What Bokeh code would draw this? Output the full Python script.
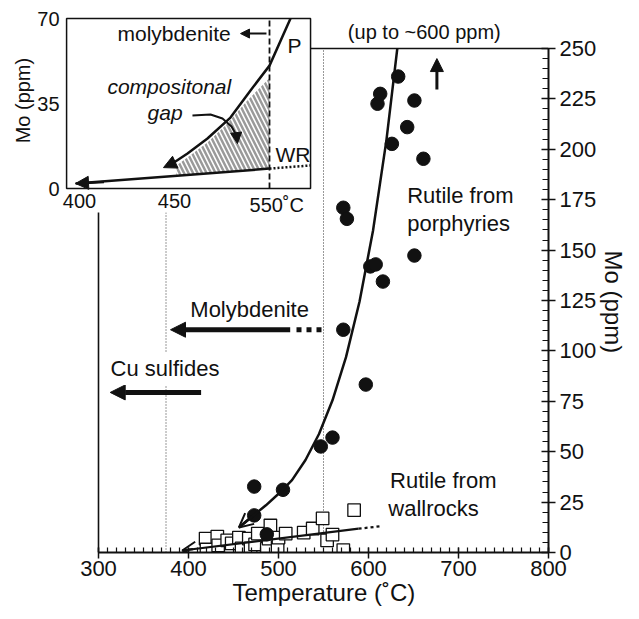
import numpy as np
from bokeh.plotting import figure
from bokeh.models import (Range1d, SingleIntervalTicker, Arrow, OpenHead, NormalHead, Label, Title)
from bokeh.core.properties import value
from bokeh.embed import file_html
from bokeh.resources import INLINE

FONT = "Liberation Sans"
INK = "#111111"

# ---------------- main panel data ----------------
porph_T = [473, 505, 473, 487, 547, 560, 572, 597, 602, 608, 616, 651, 572, 576,
           626, 661, 643, 610, 613, 651, 633]
porph_Mo = [32.7, 31.1, 18.4, 9.0, 52.6, 57.0, 110.5, 83.3, 141.9, 142.9, 134.4, 147.3,
            171.0, 165.5, 202.7, 195.3, 211.0, 222.6, 227.5, 224.2, 236.1]

wall_T = [419, 420, 432, 433, 443, 448, 456, 459, 467, 469, 474, 477, 487, 489, 491,
          499, 500, 508, 528, 538, 549, 554, 560, 572, 584]
wall_Mo = [6.9, 1.5, 7.9, 3.5, 6.0, 4.5, 7.4, 2.0, 6.9, 2.0, 4.0, 9.4, 1.8, 6.9, 13.4,
           2.5, 7.4, 9.4, 9.9, 11.9, 16.9, 6.0, 8.9, 1.2, 21.0]

trendP_T = [456, 471, 486, 501, 515, 530, 545, 560, 575, 590, 605, 620, 632]
trendP_Mo = [12.4, 18.0, 23.4, 29.5, 35.9, 45.9, 58.8, 75.5, 96.9, 124.4, 159.6, 204.8, 250.0]
trendWR_T = [393, 589]
trendWR_Mo = [1.0, 11.8]
trendWR_ext_T = [589, 613]
trendWR_ext_Mo = [11.8, 13.0]

moly_T = 550      # molybdenite line
cu_T = 375        # Cu sulfides line
moly_arrow_T = [513, 380]
moly_arrow_dots_T = [520, 550]
moly_arrow_Mo = 110.5
cu_arrow_T = [414, 313]
cu_arrow_Mo = 79.4
up_arrow_T = 676
up_arrow_Mo = [229.7, 245.0]

x_tick_step = 100
y_tick_step = 25
x_lim = (300, 800)
y_lim = (0, 250)

# ---------------- inset data (schematic) ----------------
inset_x_ticks = [400, 450, 550]
inset_x_labels = ["400", "450", "550˚C"]
inset_y_ticks = [0, 35, 70]
inset_box_T = (393.2, 593.2)
inset_box_Mo = (0, 70)
insetP_T = [448.9, 463.7, 484.7, 508.9, 530, 550, 572.1]
insetP_Mo = [10.3, 14.4, 20.6, 29.2, 40.4, 50.6, 70]
insetP_tip = (444.2, 8.6)
insetWR_T = [397.9, 550]
insetWR_Mo = [2.06, 8.2]
insetWR_ext_T = [550, 593.2]
insetWR_ext_Mo = [8.2, 9.5]
gap_T = [452, 465, 485, 505, 525, 550, 550, 452]
gap_Mo = [9.5, 13.2, 19.0, 26.5, 35.5, 45.5, 8.2, 5.3]
gap_arrow_T = [468.9, 487.9, 500.5, 510.0, 515.3]
gap_arrow_Mo = [30.1, 30.5, 28.8, 25.5, 21.8]
gap_arrow_tip = (516.3, 18.5)
moly_inset_T = [546.8, 519.5]
moly_inset_Mo = 63.8


def iu(T):
    """Inset temperature axis (schematic, 400/450/550 equally spaced)."""
    def one(t):
        return (t - 400) / 50.0 if t < 450 else 1 + (t - 450) / 100.0
    if np.ndim(T) == 0:
        return float(one(float(T)))
    return [float(one(float(t))) for t in T]


p = figure(width=631, height=611, x_range=Range1d(200, 800), y_range=Range1d(0, 269.84),
           y_axis_location="right", output_backend="svg", toolbar_location=None,
           title=None, min_border_left=8, min_border_top=8, min_border_right=83,
           min_border_bottom=59, background_fill_color="white",
           border_fill_color="white", outline_line_color=None)
p.grid.visible = False
p.extra_x_ranges = {"ix": Range1d(-0.7474, 4.9368)}
p.extra_y_ranges = {"iy": Range1d(-149.88, 74.12)}

xa = p.xaxis[0]
xa.ticker = SingleIntervalTicker(interval=x_tick_step, num_minor_ticks=10)
xa.bounds = x_lim
ya = p.yaxis[0]
ya.ticker = SingleIntervalTicker(interval=y_tick_step, num_minor_ticks=5)
ya.bounds = y_lim
for ax in (xa, ya):
    ax.axis_line_color = INK
    ax.axis_line_width = 2
    ax.major_tick_line_color = INK
    ax.major_tick_line_width = 1.5
    ax.minor_tick_line_color = INK
    ax.minor_tick_line_width = 1.2
    ax.major_label_text_font = FONT
    ax.major_label_text_font_size = "22px"
    ax.major_label_text_color = INK
    ax.minor_tick_out = 0
xa.major_tick_in = 5
xa.major_tick_out = 6
xa.minor_tick_in = 5
xa.major_label_standoff = 2
ya.major_tick_in = 7
ya.major_tick_out = 7
ya.minor_tick_in = 6
ya.major_label_standoff = 4

# axis titles, placed as side titles so they can be centred on the bounded axes
p.add_layout(Title(text="Temperature (˚C)", text_font=FONT, text_font_size="24px",
                   text_font_style="normal", text_color=INK, align="left",
                   offset=224, standoff=0, vertical_align="top"), "below")
p.add_layout(Title(text="Mo (ppm)", text_font=FONT, text_font_size="24px",
                   text_font_style="normal", text_color=INK, align="left",
                   offset=242, standoff=0, vertical_align="bottom"), "right")

# reference lines
p.segment(x0=[cu_T, moly_T], y0=[0, 0], x1=[cu_T, moly_T], y1=[y_lim[1], y_lim[1]],
          line_color="#333333", line_width=1, line_dash="1 2")
p.segment(x0=[x_lim[0], x_lim[0]], y0=[y_lim[0], y_lim[1]], x1=[x_lim[0], x_lim[1]],
          y1=[y_lim[1], y_lim[1]], line_color=INK, line_width=1.6)

# molybdenite / Cu sulfide arrows
p.line(x=moly_arrow_dots_T, y=[moly_arrow_Mo] * 2, line_color=INK, line_width=5,
       line_dash="5 5")
p.add_layout(Arrow(end=NormalHead(size=15, fill_color=INK, line_color=INK),
                   x_start=moly_arrow_T[0], y_start=moly_arrow_Mo,
                   x_end=moly_arrow_T[1], y_end=moly_arrow_Mo,
                   line_color=INK, line_width=5))
p.add_layout(Arrow(end=NormalHead(size=15, fill_color=INK, line_color=INK),
                   x_start=cu_arrow_T[0], y_start=cu_arrow_Mo,
                   x_end=cu_arrow_T[1], y_end=cu_arrow_Mo,
                   line_color=INK, line_width=5))
p.add_layout(Arrow(end=NormalHead(size=13, fill_color=INK, line_color=INK),
                   x_start=up_arrow_T, y_start=up_arrow_Mo[0],
                   x_end=up_arrow_T, y_end=up_arrow_Mo[1],
                   line_color=INK, line_width=3))

# data
p.scatter(x=wall_T, y=wall_Mo, marker="square", size=12.5, fill_color="white",
          line_color=INK, line_width=1.3)
p.line(x=trendWR_T, y=trendWR_Mo, line_color=INK, line_width=2.2)
p.line(x=trendWR_ext_T, y=trendWR_ext_Mo, line_color=INK, line_width=2.2, line_dash="3 3")
p.add_layout(Arrow(end=OpenHead(size=14, line_color=INK, line_width=2),
                   x_start=trendWR_T[0] + 12, y_start=trendWR_Mo[0] + 0.7,
                   x_end=trendWR_T[0], y_end=trendWR_Mo[0], line_color=INK, line_width=2.2))
p.scatter(x=porph_T, y=porph_Mo, marker="circle", size=13.5, fill_color=INK,
          line_color=INK)
p.line(x=trendP_T, y=trendP_Mo, line_color=INK, line_width=2.5)
p.add_layout(Arrow(end=OpenHead(size=14, line_color=INK, line_width=2),
                   x_start=trendP_T[1], y_start=trendP_Mo[1],
                   x_end=trendP_T[0], y_end=trendP_Mo[0], line_color=INK, line_width=2.5))

# main texts
txt = dict(text_font=value(FONT), text_font_size="22px", text_color=INK,
           text_baseline="middle", text_align="left")
p.text(x=[402, 643, 643, 624, 622], y=[120.5, 177.1, 163.2, 35.7, 21.8],
       text=["Molybdenite", "Rutile from", "porphyries", "Rutile from", "wallrocks"], **txt)
p.text(x=[662], y=[258.4], text=["(up to ~600 ppm)"], text_font=value(FONT),
       text_font_size="20px", text_color=INK, text_baseline="middle", text_align="center")
p.add_layout(Label(x=309, y=91.3, text="Cu sulfides", text_font=FONT,
                   text_font_size="22px", text_color=INK, text_baseline="middle",
                   background_fill_color="white", padding=4))

# ---------------- inset ----------------
p.quad(left=200, right=535.6, bottom=168.65, top=269.84, fill_color="white",
       line_color=None)
ik = dict(x_range_name="ix", y_range_name="iy")
p.quad(left=iu(inset_box_T[0]), right=iu(inset_box_T[1]), bottom=inset_box_Mo[0],
       top=inset_box_Mo[1], fill_color="white", line_color=INK, line_width=1.5, **ik)
p.patch(x=iu(gap_T), y=gap_Mo, fill_color="white", fill_alpha=0, line_color=None,
        hatch_pattern="\\", hatch_color="#9a9a9a", hatch_weight=2.5, hatch_scale=9, **ik)
p.line(x=iu([550, 550]), y=list(inset_box_Mo), line_color=INK, line_width=1.8,
       line_dash="6 3", **ik)
p.line(x=iu(insetP_T), y=insetP_Mo, line_color=INK, line_width=2.5, **ik)
p.line(x=iu(insetWR_T), y=insetWR_Mo, line_color=INK, line_width=2.5, **ik)
p.line(x=iu(insetWR_ext_T), y=insetWR_ext_Mo, line_color=INK, line_width=2.5,
       line_dash="2 2", **ik)
p.line(x=iu(gap_arrow_T), y=gap_arrow_Mo, line_color=INK, line_width=2, **ik)

for (xs, ys, xe, ye, sz, lw) in [
        (iu(insetP_T[0]), insetP_Mo[0], iu(insetP_tip[0]), insetP_tip[1], 13, 2.5),
        (iu(insetWR_T[0] + 15), insetWR_Mo[0] + 0.6, iu(insetWR_T[0]), insetWR_Mo[0], 13, 2.5),
        (iu(gap_arrow_T[-1]), gap_arrow_Mo[-1], iu(gap_arrow_tip[0]), gap_arrow_tip[1], 11, 2),
        (iu(moly_inset_T[0]), moly_inset_Mo, iu(moly_inset_T[1]), moly_inset_Mo, 9, 2)]:
    p.add_layout(Arrow(end=NormalHead(size=sz, fill_color=INK, line_color=INK),
                       x_start=xs, y_start=ys, x_end=xe, y_end=ye,
                       line_color=INK, line_width=lw, **ik))

itxt = dict(text_font=value(FONT), text_color=INK, **ik)
p.text(x=[iu(inset_box_T[0])] * 3, y=inset_y_ticks,
       text=[str(v) for v in inset_y_ticks], text_align="right", text_baseline="middle",
       x_offset=-7, text_font_size="20px", **itxt)
p.text(x=iu(inset_x_ticks[:2]), y=[0, 0], text=inset_x_labels[:2], text_align="center",
       text_baseline="top", y_offset=5, text_font_size="20px", **itxt)
p.text(x=iu(inset_x_ticks[2:]), y=[0], text=inset_x_labels[2:], text_align="left",
       text_baseline="top", y_offset=5, x_offset=-20, text_font_size="20px", **itxt)
p.text(x=[-0.6], y=[36.2], text=["Mo (ppm)"], angle=np.pi / 2, text_align="center",
       text_baseline="middle", text_font_size="20px", **itxt)
p.text(x=iu([420, 569, 556.3]), y=[64.0, 58.9, 14.2],
       text=["molybdenite", "P", "WR"], text_align="left", text_baseline="middle",
       text_font_size="21px", **itxt)
p.text(x=iu([414.7, 435.8]), y=[42.2, 31.3], text=["compositonal", "gap"],
       text_align="left", text_baseline="middle", text_font_style="italic",
       text_font_size="21px", **itxt)

open("out.html", "w").write(file_html(p, INLINE))
